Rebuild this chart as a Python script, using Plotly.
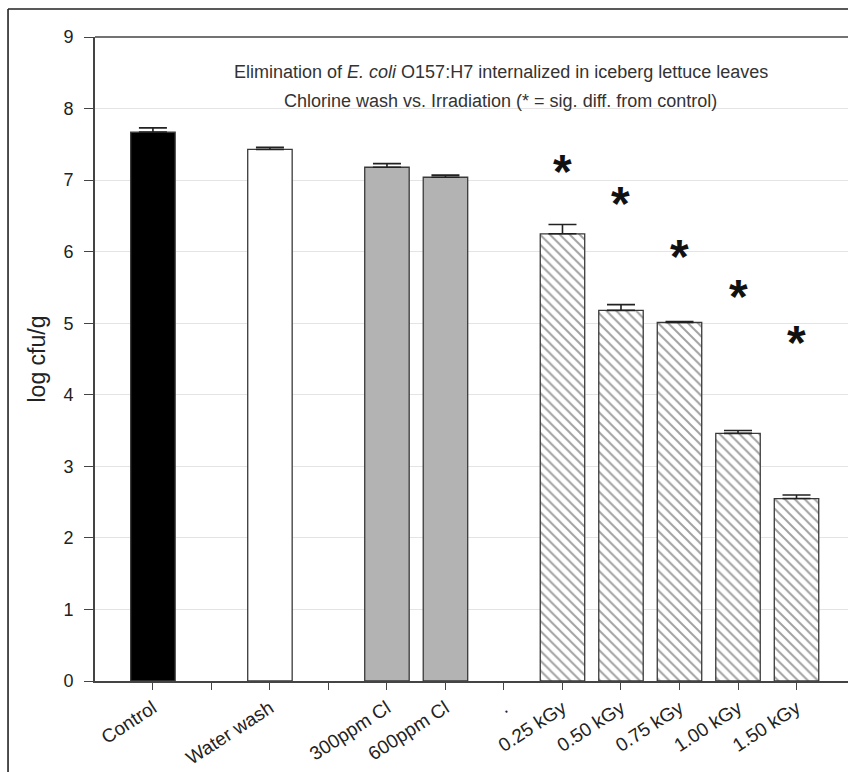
import plotly.graph_objects as go

categories = ["Control", "", "Water wash", "", "300ppm Cl", "600ppm Cl", ".",
              "0.25 kGy", "0.50 kGy", "0.75 kGy", "1.00 kGy", "1.50 kGy"]
bar_pos = [0, 2, 4, 5, 7, 8, 9, 10, 11]
log_cfu = [7.67, 7.43, 7.18, 7.04, 6.25, 5.18, 5.01, 3.46, 2.55]
err_plus = [0.06, 0.03, 0.05, 0.03, 0.13, 0.08, 0.015, 0.04, 0.05]
groups = ["control", "water", "chlorine", "chlorine",
          "irr", "irr", "irr", "irr", "irr"]
star_pos = [7, 8, 9, 10, 11]
star_y = [7.25, 6.80, 6.06, 5.50, 4.85]

fill_colors = {"control": "#000000", "water": "#ffffff", "chlorine": "#b3b3b3", "irr": "#ffffff"}
pattern_shapes = {"control": "", "water": "", "chlorine": "", "irr": "\\"}

fig = go.Figure()
fig.add_trace(go.Bar(
    x=bar_pos, y=log_cfu, width=0.76,
    marker=dict(
        color=[fill_colors[g] for g in groups],
        line=dict(color="#3a3a3a", width=1.3),
        pattern=dict(shape=[pattern_shapes[g] for g in groups],
                     fgcolor="#1a1a1a", bgcolor="#ffffff",
                     size=7, solidity=0.28),
    ),
    error_y=dict(type="data", symmetric=False, array=err_plus,
                 arrayminus=[0] * len(err_plus),
                 color="#222222", thickness=1.6, width=14),
    showlegend=False,
))

for sx, sy in zip(star_pos, star_y):
    fig.add_annotation(x=sx, y=sy, text="<b>*</b>", showarrow=False,
                       font=dict(size=48, color="#111111", family="Liberation Sans, Arial"),
                       yshift=-9)

fig.add_annotation(xref="paper", yref="paper", x=0.539, y=0.964,
                   text="Elimination of <i>E. coli</i> O157:H7 internalized in iceberg lettuce leaves",
                   showarrow=False, font=dict(size=18, color="#333333"))
fig.add_annotation(xref="paper", yref="paper", x=0.539, y=0.920,
                   text="Chlorine wash vs. Irradiation (* = sig. diff. from control)",
                   showarrow=False, font=dict(size=18, color="#333333"))

# plot top border and outer frame
fig.add_shape(type="line", xref="paper", yref="paper", x0=0, x1=1.01, y0=1, y1=1,
              line=dict(color="#444444", width=1.6))
fig.add_shape(type="line", xref="paper", yref="paper", x0=-0.1155, x1=1.01, y0=1.0435, y1=1.0435,
              line=dict(color="#222222", width=1.6))
fig.add_shape(type="line", xref="paper", yref="paper", x0=-0.1155, x1=-0.1155, y0=1.0435, y1=-0.16,
              line=dict(color="#222222", width=1.6))

fig.update_layout(
    width=848, height=772,
    margin=dict(l=95, r=0, t=37, b=91),
    paper_bgcolor="white", plot_bgcolor="white",
    font=dict(family="Liberation Sans, Arial", color="#222222"),
    bargap=0.2,
)
fig.update_xaxes(
    range=[-0.99, 11.88], tickmode="array", tickvals=list(range(len(categories))),
    ticktext=categories, tickangle=-33, ticks="outside", ticklen=7, tickwidth=1.3,
    tickcolor="#444444", showline=True, linecolor="#444444", linewidth=1.6,
    showgrid=False, zeroline=False, tickfont=dict(size=19, color="#222222"),
)
fig.update_yaxes(
    range=[0, 9], dtick=1, ticks="outside", ticklen=9, tickwidth=1.3,
    tickcolor="#444444", showline=True, linecolor="#444444", linewidth=1.6,
    showgrid=True, gridcolor="#e4e4e4", gridwidth=1.2, zeroline=False,
    tickfont=dict(size=18, color="#222222"), ticklabelstandoff=7,
    title=dict(text="log cfu/g", font=dict(size=23, color="#222222"), standoff=12),
)

fig.write_html("out.html")
